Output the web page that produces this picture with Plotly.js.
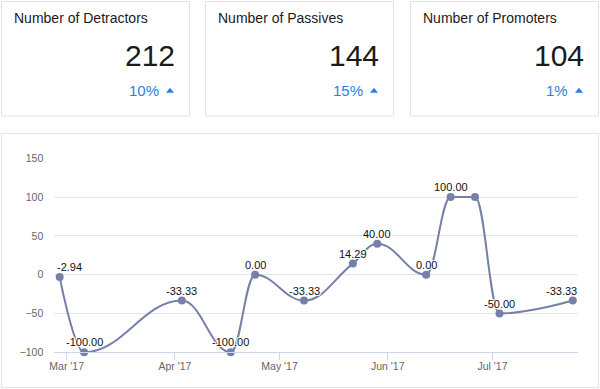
<!DOCTYPE html>
<html><head><meta charset="utf-8">
<script src="https://cdn.plot.ly/plotly-3.0.1.min.js"></script>
<style>html,body{margin:0;padding:0;background:#fff;overflow:hidden;} #chart{width:600px;height:389px;}</style>
</head><body><div id="chart"></div>
<script>
// ---- data ----
const kpiTitles = ["Number of Detractors", "Number of Passives", "Number of Promoters"];
const kpiValues = [212, 144, 104];
const kpiChanges = ["10%", "15%", "1%"];

const weekDates = ["2017-02-27", "2017-03-06", "2017-04-03", "2017-04-17", "2017-04-24", "2017-05-08",
                   "2017-05-22", "2017-05-29", "2017-06-12", "2017-06-19", "2017-06-26", "2017-07-03", "2017-07-24"];
const npsValues = [-2.94, -100, -33.33, -100, 0, -33.33, 14.29, 40, 0, 100, 100, -50, -33.33];

const monthTickDates = ["2017-03-01", "2017-04-01", "2017-05-01", "2017-06-01", "2017-07-01"];
const monthTickLabels = ["Mar '17", "Apr '17", "May '17", "Jun '17", "Jul '17"];
const yTickValues = [-100, -50, 0, 50, 100, 150];

// ---- layout helpers (pixel -> paper) ----
const W = 600, H = 389;
const px = x => x / W;
const py = y => 1 - y / H;

const FONT = "'Liberation Sans', Arial, sans-serif";
const BLUE = "#2b7fe3";
const LINE = "#7781a8";
const BORDER = "#e3e3e3";

const shapes = [];
const annotations = [];

const cardLefts = [1.5, 205.5, 410.5];
const cardW = 188;
cardLefts.forEach((l, i) => {
  const r = l + cardW;
  shapes.push({type: "rect", xref: "paper", yref: "paper", x0: px(l), x1: px(r), y0: py(116), y1: py(1.5),
               line: {color: BORDER, width: 1}, fillcolor: "#fff", layer: "below"});
  annotations.push({xref: "paper", yref: "paper", x: px(l + 10), y: py(18), xanchor: "left", yanchor: "middle",
                    text: kpiTitles[i], showarrow: false, font: {family: FONT, size: 14, color: "#1b1b1b"}});
  annotations.push({xref: "paper", yref: "paper", x: px(r - 13), y: py(55.5), xanchor: "right", yanchor: "middle",
                    text: String(kpiValues[i]), showarrow: false, font: {family: FONT, size: 30, color: "#1b1b1b"}});
  annotations.push({xref: "paper", yref: "paper", x: px(r - 28.5), y: py(91), xanchor: "right", yanchor: "middle",
                    text: kpiChanges[i], showarrow: false, font: {family: FONT, size: 15, color: BLUE}});
  shapes.push({type: "path", xref: "paper", yref: "paper",
               path: `M ${px(r - 23.5)} ${py(92.8)} L ${px(r - 15.5)} ${py(92.8)} L ${px(r - 19.5)} ${py(87.8)} Z`,
               fillcolor: BLUE, line: {width: 0}});
});

// chart card
shapes.push({type: "rect", xref: "paper", yref: "paper", x0: px(1.5), x1: px(598.5), y0: py(387.5), y1: py(133.5),
             line: {color: BORDER, width: 1}, fillcolor: "#fff", layer: "below"});

// ---- Highcharts-style monotone spline built from the data, drawn on the data axes ----
function toMs(d) { const [y, m, dd] = d.split("-").map(Number); return Date.UTC(y, m - 1, dd); }
function pad(n, w) { return String(n).padStart(w || 2, "0"); }
function msToPath(ms) {
  const d = new Date(ms);
  return `${d.getUTCFullYear()}-${pad(d.getUTCMonth() + 1)}-${pad(d.getUTCDate())}_${pad(d.getUTCHours())}:${pad(d.getUTCMinutes())}:${pad(d.getUTCSeconds())}.${pad(d.getUTCMilliseconds(), 3)}`;
}
function splinePath(xs, ys) {
  const sm = 1.5, den = sm + 1;
  const n = xs.length;
  const rc = new Array(n).fill(null);
  let path = `M ${msToPath(xs[0])},${ys[0]}`;
  for (let i = 1; i < n; i++) {
    const x = xs[i], y = ys[i];
    let lcx = x, lcy = y;
    if (i < n - 1) {
      const lx = xs[i - 1], ly = ys[i - 1], nx = xs[i + 1], ny = ys[i + 1];
      lcx = (sm * x + lx) / den; lcy = (sm * y + ly) / den;
      let rcx = (sm * x + nx) / den, rcy = (sm * y + ny) / den;
      let corr = 0;
      if (rcx !== lcx) corr = ((rcy - lcy) * (rcx - x)) / (rcx - lcx) + y - rcy;
      lcy += corr; rcy += corr;
      if (lcy > ly && lcy > y) { lcy = Math.max(ly, y); rcy = 2 * y - lcy; }
      else if (lcy < ly && lcy < y) { lcy = Math.min(ly, y); rcy = 2 * y - lcy; }
      if (rcy > ny && rcy > y) { rcy = Math.max(ny, y); lcy = 2 * y - rcy; }
      else if (rcy < ny && rcy < y) { rcy = Math.min(ny, y); lcy = 2 * y - rcy; }
      rc[i] = [rcx, rcy];
    }
    const p = rc[i - 1] || [xs[i - 1], ys[i - 1]];
    path += ` C ${msToPath(p[0])},${p[1]} ${msToPath(lcx)},${lcy} ${msToPath(x)},${y}`;
  }
  return path;
}
const msDates = weekDates.map(toMs);
shapes.push({type: "path", xref: "x", yref: "y", layer: "between",
             path: splinePath(msDates, npsValues), line: {color: LINE, width: 2}, fillcolor: "rgba(0,0,0,0)"});

// data labels (Highcharts-style: hide overlapping duplicate, keep inside plot)
npsValues.forEach((v, i) => {
  if (i > 0 && v === npsValues[i - 1]) return;
  let xshift = 0;
  if (i === 0) xshift = 10;
  if (i === npsValues.length - 1) xshift = -11;
  annotations.push({xref: "x", yref: "y", x: weekDates[i], y: v, yshift: 10, xshift: xshift,
                    xanchor: "center", yanchor: "middle", showarrow: false, text: v.toFixed(2),
                    font: {family: FONT, size: 11, color: "#111",
                           shadow: "1px 1px 0 #fff, -1px -1px 0 #fff, 1px -1px 0 #fff, -1px 1px 0 #fff"}});
});

const trace = {
  type: "scatter", mode: "markers",
  x: weekDates, y: npsValues,
  marker: {size: 8, color: LINE},
  cliponaxis: false, hoverinfo: "skip"
};

const layout = {
  width: W, height: H,
  margin: {l: 0, r: 0, t: 0, b: 0, pad: 0},
  paper_bgcolor: "#fff", plot_bgcolor: "rgba(0,0,0,0)",
  showlegend: false,
  xaxis: {
    type: "date", domain: [px(54.3), px(578)],
    range: ["2017-02-25 11:00", "2017-07-25 12:00"],
    tickmode: "array", tickvals: monthTickDates, ticktext: monthTickLabels,
    ticks: "outside", ticklen: 7, tickcolor: "#ccd6eb", tickwidth: 1,
    showline: true, linecolor: "#ccd6eb", linewidth: 1,
    showgrid: false, zeroline: false, ticklabelstandoff: -3,
    tickfont: {family: FONT, size: 10.5, color: "#666"}, fixedrange: true
  },
  yaxis: {
    domain: [py(352.3), py(158.3)], range: [-100, 150],
    tickmode: "array", tickvals: yTickValues,
    showgrid: true, gridcolor: "#e6e6e6", gridwidth: 1,
    showline: false, zeroline: false, ticks: "",
    tickfont: {family: FONT, size: 10.5, color: "#666"}, ticklabelstandoff: 10, fixedrange: true
  },
  shapes: shapes,
  annotations: annotations
};

Plotly.newPlot("chart", [trace], layout, {displayModeBar: false, staticPlot: true});
</script>
</body></html>
